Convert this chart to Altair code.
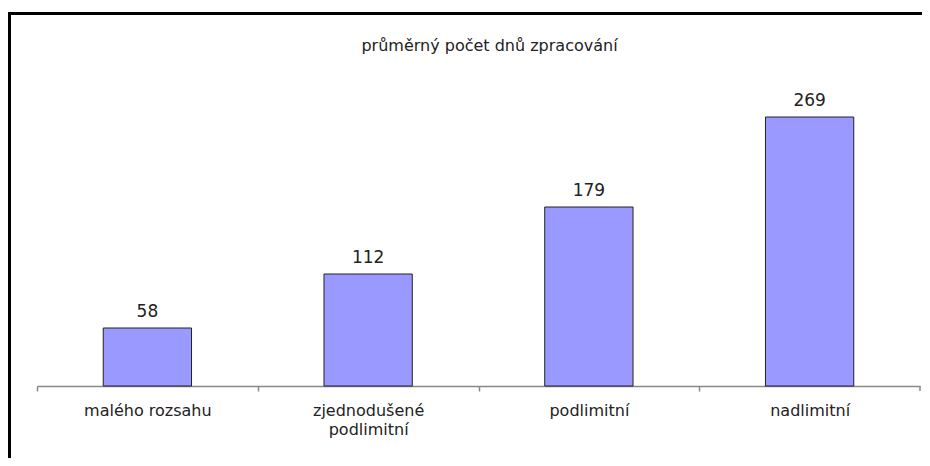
import altair as alt
import pandas as pd

categories = ["malého rozsahu", "zjednodušené\npodlimitní", "podlimitní", "nadlimitní"]
values = [58, 112, 179, 269]
title_text = "průměrný počet dnů zpracování"

df = pd.DataFrame({"kategorie": categories, "dny": values})

W, H = 883, 300
FONT = "DejaVu Sans"

x_enc = alt.X(
    "kategorie:N",
    sort=categories,
    title=None,
    scale=alt.Scale(paddingInner=0.6, paddingOuter=0.3),
    axis=alt.Axis(
        labelAngle=0,
        labelExpr="split(datum.label, '\\n')",
        labelFont=FONT,
        labelFontSize=16,
        labelColor="#222222",
        labelPadding=11,
        labelLineHeight=19,
        labelBaseline="top",
        domainColor="#888888",
        domainWidth=1.5,
        tickColor="#888888",
        tickSize=5,
        tickWidth=1.5,
        tickOffset=-W / 8,
        labelOffset=W / 8,
    ),
)
y_enc = alt.Y("dny:Q", scale=alt.Scale(domain=[0, 300]), axis=None)

bars = alt.Chart(df).mark_bar(
    color="#9999FF", stroke="#222222", strokeWidth=1
).encode(x=x_enc, y=y_enc)

labels = alt.Chart(df).mark_text(
    baseline="bottom", dy=-7, font=FONT, fontSize=17, color="#222222"
).encode(x=alt.X("kategorie:N", sort=categories), y=y_enc, text="dny:Q")

# last tick at the right end of the axis
end_tick = alt.Chart(pd.DataFrame({"k": [0]})).mark_rule(
    color="#888888", strokeWidth=1.5
).encode(x=alt.value(W), y=alt.value(H), y2=alt.value(H + 5))

# outer frame of the chart
frame = alt.Chart(pd.DataFrame({"k": [0]})).mark_rect(
    fillOpacity=0, stroke="black", strokeWidth=3
).encode(
    x=alt.value(-27.5), x2=alt.value(W + 20),
    y=alt.value(-72.5), y2=alt.value(H + 100)
)

chart = alt.layer(frame, bars, labels, end_tick).properties(
    width=W,
    height=H,
    title=alt.TitleParams(
        title_text, anchor="middle", dx=11, offset=0, dy=55, baseline="alphabetic",
        font=FONT, fontSize=16, fontWeight="normal", color="#222222",
    ),
    autosize=alt.AutoSizeParams(type="none"),
    padding={"left": 29, "top": 78, "right": 2, "bottom": 72},
).configure_view(stroke=None)

chart.save("out.html", embed_options={"renderer": "svg", "actions": False})
